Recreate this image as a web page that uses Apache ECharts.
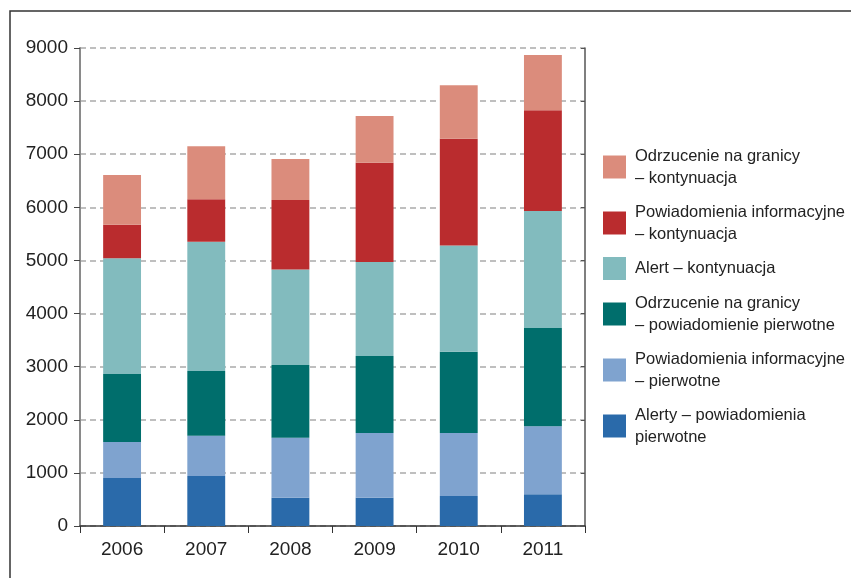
<!DOCTYPE html>
<html>
<head>
<meta charset="utf-8">
<script src="https://cdn.jsdelivr.net/npm/echarts@6/dist/echarts.min.js"></script>
<style>
html, body { margin: 0; padding: 0; background: #fff; }
#chart { width: 851px; height: 578px; }
</style>
</head>
<body>
<div id="chart"></div>
<script>
// lata
var years = ['2006', '2007', '2008', '2009', '2010', '2011'];

// wartosci serii (od dolu do gory)
var alertyPierwotne = [905, 940, 530, 530, 565, 600];
var informacyjnePierwotne = [675, 760, 1130, 1220, 1185, 1280];
var odrzuceniePierwotne = [1280, 1220, 1370, 1450, 1530, 1850];
var alertKontynuacja = [2180, 2430, 1800, 1770, 2000, 2200];
var informacyjneKontynuacja = [630, 800, 1310, 1870, 2010, 1900];
var odrzucenieKontynuacja = [940, 1000, 770, 880, 1010, 1040];

var names = [
    'Alerty – powiadomienia\npierwotne',
    'Powiadomienia informacyjne\n– pierwotne',
    'Odrzucenie na granicy\n– powiadomienie pierwotne',
    'Alert – kontynuacja',
    'Powiadomienia informacyjne\n– kontynuacja',
    'Odrzucenie na granicy\n– kontynuacja'
];
var colors = ['#2a6aaa', '#7fa3cf', '#006e6c', '#82bbbe', '#ba2c2e', '#db8c7c'];
var values = [alertyPierwotne, informacyjnePierwotne, odrzuceniePierwotne,
              alertKontynuacja, informacyjneKontynuacja, odrzucenieKontynuacja];

var myChart = echarts.init(document.getElementById('chart'));

var series = [];
for (let i = 0; i < names.length; i++) {
    series.push({
        name: names[i],
        type: 'bar',
        stack: 'all',
        barWidth: '45%',
        itemStyle: { color: colors[i] },
        data: values[i]
    });
}

var option = {
    animation: false,
    textStyle: { fontFamily: 'Liberation Sans, Arial, sans-serif' },
    grid: { left: 80, right: 266, top: 48, bottom: 52 },
    legend: {
        orient: 'vertical',
        left: 598,
        top: 140,
        itemWidth: 23,
        itemHeight: 23,
        itemGap: 12,
        icon: 'rect',
        data: names.slice().reverse(),
        textStyle: {
            fontFamily: 'Liberation Sans, Arial, sans-serif',
            fontSize: 16.5,
            lineHeight: 22,
            color: '#222',
            padding: [0, 0, 0, 4]
        }
    },
    xAxis: {
        type: 'category',
        data: years,
        axisLine: { lineStyle: { color: '#333', width: 1.5 } },
        axisTick: { show: true, alignWithLabel: false, length: 7, lineStyle: { color: '#333' } },
        axisLabel: { fontSize: 19, color: '#222', margin: 14 }
    },
    yAxis: [{
        type: 'value',
        min: 0,
        max: 9000,
        interval: 1000,
        axisLine: { show: true, lineStyle: { color: '#8a8a8a', width: 2 } },
        axisTick: { show: true, length: 6, lineStyle: { color: '#444' } },
        axisLabel: { fontSize: 19, color: '#222', margin: 12, formatter: function (v) { return String(v); } },
        splitLine: { lineStyle: { color: '#aaa', type: [6, 4], width: 1.5 } }
    }, {
        type: 'value',
        position: 'right',
        min: 0,
        max: 9000,
        interval: 1000,
        axisLine: { show: true, lineStyle: { color: '#555', width: 1.5 } },
        axisTick: { show: true, inside: true, length: 4, lineStyle: { color: '#555' } },
        axisLabel: { show: false },
        splitLine: { show: false }
    }],
    graphic: [{
        type: 'polyline',
        shape: { points: [[10, 578], [10, 11], [851, 11]] },
        style: { stroke: '#333', lineWidth: 1.5, fill: null }
    }],
    series: series
};

myChart.setOption(option);
</script>
</body>
</html>
